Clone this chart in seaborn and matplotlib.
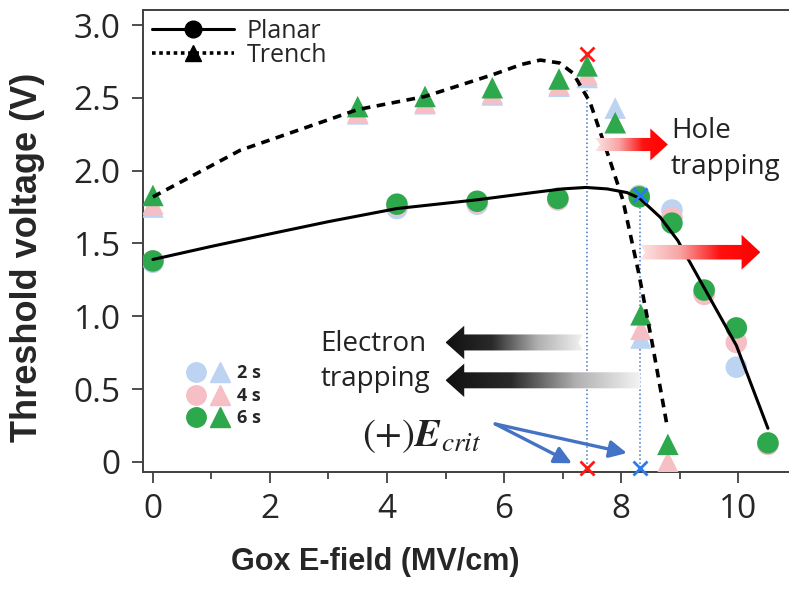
import numpy as np
import pandas as pd
import matplotlib
matplotlib.use('Agg')
import matplotlib.pyplot as plt
import seaborn as sns
from matplotlib.lines import Line2D
from matplotlib.patches import Polygon
from matplotlib.colors import LinearSegmentedColormap
from matplotlib.legend_handler import HandlerTuple
from matplotlib.ticker import MultipleLocator, FuncFormatter

# measured Vth values (V) per stress time
planar_x = [0, 4.17, 5.54, 6.92, 8.31, 8.87, 9.42, 9.97, 10.51]
planar_2s = [1.37, 1.74, 1.77, 1.80, 1.83, 1.73, 1.16, 0.65, 0.12]
planar_4s = [1.38, 1.76, 1.78, 1.80, 1.82, 1.68, 1.15, 0.82, 0.12]
planar_6s = [1.38, 1.77, 1.79, 1.81, 1.82, 1.64, 1.18, 0.92, 0.13]

trench_x = [0, 3.5, 4.65, 5.8, 6.94, 7.42, 7.9, 8.34, 8.8]
trench_2s = [1.75, 2.39, 2.46, 2.52, 2.58, 2.64, 2.43, 0.85, -0.02]
trench_4s = [1.77, 2.40, 2.47, 2.53, 2.59, 2.66, 2.33, 0.91, 0.00]
trench_6s = [1.83, 2.44, 2.51, 2.57, 2.63, 2.72, 2.33, 1.01, 0.12]

# guide curves
planar_fit_x = [0, 1, 2.05, 3, 4.17, 5.54, 6.5, 7.0, 7.4, 7.76, 8.1, 8.32, 8.67, 8.97, 9.4, 9.97, 10.51]
planar_fit_y = [1.39, 1.48, 1.57, 1.65, 1.74, 1.80, 1.85, 1.875, 1.885, 1.875, 1.85, 1.81, 1.68, 1.52, 1.21, 0.80, 0.23]
trench_fit_x = [0, 1.49, 3.5, 4.65, 5.81, 6.3, 6.62, 6.95, 7.18, 7.47, 7.81, 8.03, 8.3, 8.53, 8.79]
trench_fit_y = [1.82, 2.14, 2.42, 2.51, 2.66, 2.73, 2.76, 2.74, 2.67, 2.47, 2.07, 1.80, 1.30, 0.82, 0.24]

# critical fields
ecrit_trench = 7.42
ecrit_planar = 8.33

times = ['2 s', '4 s', '6 s']
time_colors = ['#bcd3f2', '#f5bfc5', '#2ea84c']

rows = []
for t, p, tr in zip(times, [planar_2s, planar_4s, planar_6s], [trench_2s, trench_4s, trench_6s]):
    rows += [dict(x=a, y=b, time=t, device='Planar') for a, b in zip(planar_x, p)]
    rows += [dict(x=a, y=b, time=t, device='Trench') for a, b in zip(trench_x, tr)]
df = pd.DataFrame(rows)

sns.set_style('ticks')
plt.rcParams['font.family'] = ['Open Sans', 'DejaVu Sans']

fig = plt.figure(figsize=(7.89, 5.92), dpi=100)
ax = fig.add_axes([0.1812, 0.2027, 0.8188, 0.7804])

sns.lineplot(x=planar_fit_x, y=planar_fit_y, color='black', lw=2.2, sort=False, ax=ax, zorder=4)
sns.lineplot(x=trench_fit_x, y=trench_fit_y, color='black', lw=2.6, sort=False, ax=ax, zorder=4)
ax.lines[-1].set_linestyle((0, (2.4, 1.8)))

sns.scatterplot(data=df, x='x', y='y', hue='time', style='device', hue_order=times,
                palette=time_colors, markers={'Planar': 'o', 'Trench': '^'},
                s=240, linewidth=0, legend=False, ax=ax, zorder=3)

# vertical guides and crossing marks
ax.vlines([ecrit_trench], -0.07, 2.57, colors='#4472c4', linestyles=':', lw=1.1, zorder=2)
ax.vlines([ecrit_planar], -0.07, 1.80, colors='#4472c4', linestyles=':', lw=1.1, zorder=2)
ax.plot([ecrit_trench, ecrit_trench], [2.80, -0.04], ls='none', marker='x', ms=10, mew=2,
        color='#ff1a1a', clip_on=False, zorder=6)
ax.plot([ecrit_planar, ecrit_planar], [1.83, -0.04], ls='none', marker='x', ms=10, mew=2,
        color='#2b7bf0', clip_on=False, zorder=6)


def grad_arrow(x_tail, x_tip, y, shaft, head, head_len, notch, colors):
    d = np.sign(x_tip - x_tail)
    xb = x_tip - d * head_len
    pts = [(x_tail, y + shaft / 2), (xb, y + shaft / 2), (xb, y + head / 2), (x_tip, y),
           (xb, y - head / 2), (xb, y - shaft / 2), (x_tail, y - shaft / 2), (x_tail + d * notch, y)]
    poly = Polygon(pts, closed=True, facecolor='none', edgecolor='none', transform=ax.transData)
    ax.add_patch(poly)
    cmap = LinearSegmentedColormap.from_list('g', colors)
    grad = np.linspace(0, 1, 256).reshape(1, -1)
    if d < 0:
        grad = grad[:, ::-1]
    im = ax.imshow(grad, extent=[min(x_tail, x_tip), max(x_tail, x_tip), y - head / 2, y + head / 2],
                   cmap=cmap, aspect='auto', origin='lower', zorder=5)
    im.set_clip_path(poly)


red = ['#fde6e6', '#f7a3a3', '#ff1010', '#ff0000']
gray = ['#f4f4f4', '#b0b0b0', '#2a2a2a', '#111111']
grad_arrow(7.56, 8.80, 2.18, 0.09, 0.22, 0.30, 0.08, red)
grad_arrow(8.33, 10.38, 1.44, 0.10, 0.24, 0.32, 0.08, red)
grad_arrow(7.35, 5.0, 0.82, 0.11, 0.23, 0.32, 0.08, gray)
grad_arrow(8.33, 5.0, 0.56, 0.11, 0.23, 0.32, 0.0, gray)

ax.text(8.85, 2.15, 'Hole\ntrapping', fontsize=20, ha='left', va='center', color='#222222',
        linespacing=1.38)
ax.text(2.86, 0.69, 'Electron\ntrapping', fontsize=20, ha='left', va='center', color='#222222',
        linespacing=1.35)
ax.text(3.58, 0.18, r'$(+)\boldsymbol{E}_{crit}$', fontsize=28, ha='left', va='center',
        math_fontfamily='stix', color='#222222')
for tx, ty in [(7.16, -0.01), (8.10, 0.06)]:
    ax.annotate('', xy=(tx, ty), xytext=(5.85, 0.26),
                arrowprops=dict(arrowstyle='-|>', color='#4472c4', lw=2.4, mutation_scale=26,
                                shrinkA=0, shrinkB=0), annotation_clip=False)

ax.set_xlim(-0.17, 10.87)
ax.set_ylim(-0.07, 3.104)
ax.xaxis.set_major_locator(MultipleLocator(2))
ax.xaxis.set_minor_locator(MultipleLocator(1))
ax.yaxis.set_major_locator(MultipleLocator(0.5))
ax.yaxis.set_major_formatter(FuncFormatter(lambda v, p: '0' if abs(v) < 1e-9 else f'{v:.1f}'))
ax.tick_params(which='major', length=8, width=1.3, color='#404040', labelsize=24,
               labelcolor='#262626', pad=7)
ax.tick_params(axis='y', pad=8)
ax.tick_params(which='minor', length=5, width=1.3, color='#404040')
for s in ['left', 'bottom', 'top']:
    ax.spines[s].set_color('#404040')
    ax.spines[s].set_linewidth(1.4)
ax.spines['right'].set_visible(False)

ax.set_xlabel('Gox E-field (MV/cm)', fontsize=22, fontweight='bold', family='Liberation Sans')
ax.set_ylabel('Threshold voltage (V)', fontsize=26, fontweight='bold', family='Liberation Sans')
ax.xaxis.set_label_coords(0.359, -0.163)
ax.yaxis.set_label_coords(-0.152, 0.465)

h1 = [Line2D([], [], color='black', lw=2.2, marker='o', ms=12),
      Line2D([], [], color='black', lw=2.6, ls=(0, (1, 1)), marker='^', ms=12)]
leg1 = ax.legend(h1, ['Planar', 'Trench'], loc='upper left', frameon=False, fontsize=18,
                 handlelength=3.3, handletextpad=0.5, labelspacing=-0.05, borderaxespad=0.2,
                 borderpad=0.15)
ax.add_artist(leg1)

h2 = [(Line2D([], [], ls='none', marker='o', ms=14, color=c),
       Line2D([], [], ls='none', marker='^', ms=14, color=c)) for c in time_colors]
ax.legend(h2, times, handler_map={tuple: HandlerTuple(ndivide=None, pad=0.4)},
          loc='upper left', bbox_to_anchor=(0.045, 0.268), frameon=False,
          prop={'size': 13, 'weight': 'bold'}, handlelength=2.2, handletextpad=0.5,
          labelspacing=0.25)

fig.savefig('out.png', dpi=100)
